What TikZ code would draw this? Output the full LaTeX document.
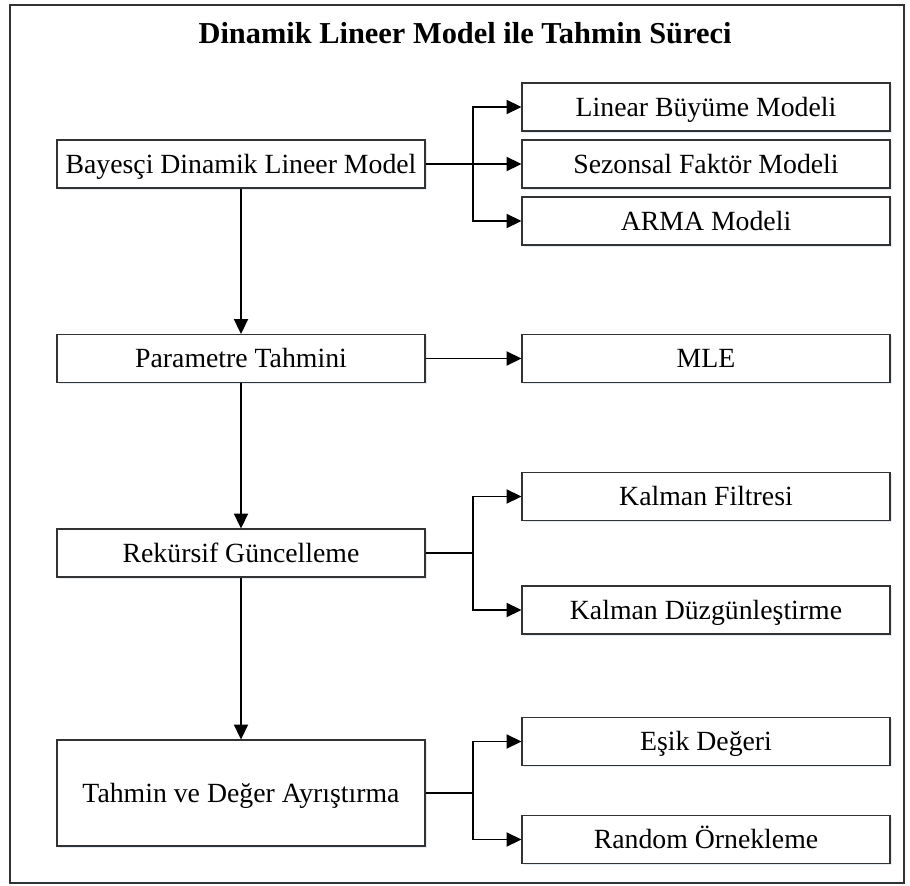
\documentclass[tikz,border=0pt]{standalone}
\usepackage{fontspec}
\setmainfont{Liberation Serif}
\usepackage{xcolor}
\usetikzlibrary{
    arrows.meta,
    calc,
    positioning,
    shadows
}
\definecolor{boxedge}{RGB}{50,50,50}
\definecolor{shadowblue}{RGB}{200,212,230}

\begin{document}
\begin{tikzpicture}[
    every node/.style={font=\fontsize{15.8}{18}\selectfont},
    stage/.style={
        rectangle,
        draw=boxedge,
        line width=0.6pt,
        fill=white,
        minimum width=7.36cm,
        minimum height=#1,
        text height=13pt,
        text depth=2.6pt,
        inner sep=0pt,
        drop shadow={shadow xshift=1pt, shadow yshift=-1pt,
                     fill=shadowblue, opacity=0.45}
    },
    stage/.default=0.96cm,
    link/.style={
        line width=1.1pt,
        black
    },
    flow/.style={
        -{Triangle[length=8.5pt,width=8pt]},
        line width=1.1pt,
        black
    }
]

    % Canvas and frame
    \useasboundingbox (0,0) rectangle (18.2,-17.72);
    \draw[line width=0.9pt, boxedge] (0.2,-0.1) rectangle (18.08,-17.66);

    % Title
    \node[font=\fontsize{17.3}{20}\selectfont\bfseries] (title) at (9.3,-0.66)
        {Dinamik Lineer Model ile Tahmin Süreci};

    % Main stages
    \node[stage] (bdlm) at (4.82,-3.28) {Bayesçi Dinamik Lineer Model};
    \node[stage] (param) at (4.82,-7.17) {Parametre Tahmini};
    \node[stage] (recur) at (4.82,-11.06) {Rekürsif Güncelleme};
    \node[stage=2.12cm] (fcast) at (4.82,-15.86) {Tahmin ve Değer Ayrıştırma};

    % Sub-methods
    \node[stage] (lbm) at (14.12,-2.14) {Linear Büyüme Modeli};
    \node[stage] (sfm) at (14.12,-3.28) {Sezonsal Faktör Modeli};
    \node[stage] (arma) at (14.12,-4.42) {ARMA Modeli};
    \node[stage] (mle) at (14.12,-7.17) {MLE};
    \node[stage] (kf) at (14.12,-9.93) {Kalman Filtresi};
    \node[stage] (kd) at (14.12,-12.2) {Kalman Düzgünleştirme};
    \node[stage] (esik) at (14.12,-14.83) {Eşik Değeri};
    \node[stage] (rand) at (14.12,-16.79) {Random Örnekleme};

    % Branch points
    \coordinate (br1) at (9.46,-3.28);
    \coordinate (br3) at (9.46,-11.06);
    \coordinate (br4) at (9.46,-15.86);

    % Main flow
    \draw[flow] (bdlm) -- (param);
    \draw[flow] (param) -- (recur);
    \draw[flow] (recur) -- (fcast);

    % Model components
    \draw[flow] (bdlm) -- (sfm);
    \draw[flow] (br1) |- (lbm);
    \draw[flow] (br1) |- (arma);

    % Estimation
    \draw[flow] (param) -- (mle);

    % Filtering and smoothing
    \draw[link] (recur) -- (br3);
    \draw[flow] (br3) |- (kf);
    \draw[flow] (br3) |- (kd);

    % Decomposition
    \draw[link] (fcast) -- (br4);
    \draw[flow] (br4) |- (esik);
    \draw[flow] (br4) |- (rand);

\end{tikzpicture}
\end{document}
